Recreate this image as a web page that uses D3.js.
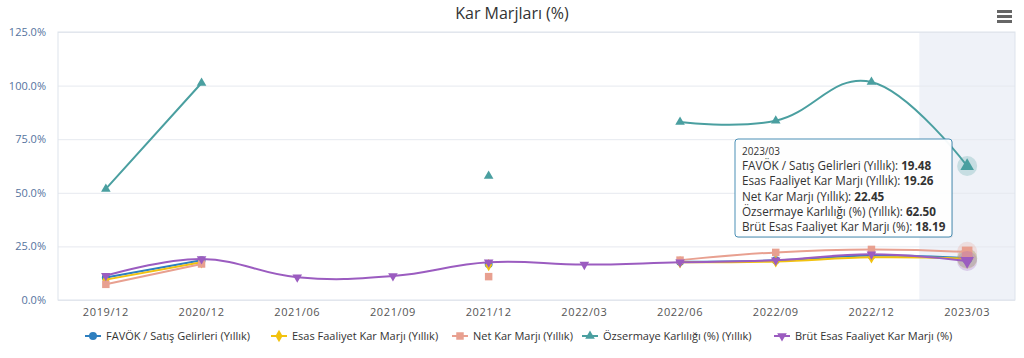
<!DOCTYPE html>
<html>
<head>
<meta charset="utf-8">
<script src="https://cdn.jsdelivr.net/npm/d3@7"></script>
<style>
  html, body { margin: 0; padding: 0; background: #fff; }
  svg { display: block; font-family: "Open Sans", "DejaVu Sans", sans-serif; }
</style>
</head>
<body>
<div id="chart"></div>
<script>
// categories (quarters) and series values
var categories = ["2019/12", "2020/12", "2021/06", "2021/09", "2021/12",
                  "2022/03", "2022/06", "2022/09", "2022/12", "2023/03"];
var favok     = [10.5, 18.5, null, null, 16.8, null, 17.8, 18.5, 20.7, 19.48];
var esas      = [9.5, 17.6, null, null, 16.3, null, 17.6, 18.0, 19.9, 19.26];
var netKar    = [7.3, 16.8, null, null, 10.9, null, 18.6, 22.2, 23.6, 22.45];
var ozsermaye = [51.8, 101.2, null, null, 57.8, null, 83.0, 83.6, 101.7, 62.50];
var brut      = [11.3, 19.1, 10.6, 11.2, 17.6, 16.5, 17.6, 18.5, 21.3, 18.19];
var yTicks    = [0, 25, 50, 75, 100, 125];

var series = [
  {name: "FAVÖK / Satış Gelirleri (Yıllık)", data: favok, color: "#2e7fbf", symbol: "circle"},
  {name: "Esas Faaliyet Kar Marjı (Yıllık)", data: esas, color: "#f2c20f", symbol: "diamond"},
  {name: "Net Kar Marjı (Yıllık)", data: netKar, color: "#e8a090", symbol: "square"},
  {name: "Özsermaye Karlılığı (%) (Yıllık)", data: ozsermaye, color: "#4a9fa0", symbol: "triangle"},
  {name: "Brüt Esas Faaliyet Kar Marjı (%)", data: brut, color: "#9b5cc0", symbol: "triangle-down"}
];
var hoverIndex = 9;

var W = 1024, H = 358;
var margin = {top: 32, right: 9, bottom: 58, left: 58};
var width = W - margin.left - margin.right;
var height = H - margin.top - margin.bottom;

var svg = d3.select("#chart").append("svg")
    .attr("width", W)
    .attr("height", H);

// title
svg.append("text")
    .attr("x", W / 2)
    .attr("y", 19)
    .attr("text-anchor", "middle")
    .attr("font-size", 16)
    .attr("fill", "#333")
    .text("Kar Marjları (%)");

// menu icon
[10, 15, 20].forEach(function(y) {
  svg.append("rect")
      .attr("x", 997).attr("y", y)
      .attr("width", 15).attr("height", 3)
      .attr("fill", "#666");
});

var g = svg.append("g")
    .attr("transform", "translate(" + margin.left + "," + margin.top + ")");

var x = d3.scaleBand()
    .domain(categories)
    .range([0, width]);

var y = d3.scaleLinear()
    .domain([0, 125])
    .range([height, 0]);

function cx(i) { return x(categories[i]) + x.bandwidth() / 2; }

// hover band
g.append("rect")
    .attr("x", x(categories[hoverIndex]))
    .attr("y", 0)
    .attr("width", x.bandwidth())
    .attr("height", height)
    .attr("fill", "#eff2f8");

// grid lines
g.append("g")
    .call(d3.axisLeft(y).tickValues(yTicks).tickSize(-width).tickFormat(""))
    .call(function(s) { s.select(".domain").remove(); })
    .selectAll("line")
    .attr("stroke", "#e6e9ef");

// plot border
g.append("rect")
    .attr("width", width)
    .attr("height", height)
    .attr("fill", "none")
    .attr("stroke", "#dde3ec");

// y labels
var yAxis = g.append("g")
    .call(d3.axisLeft(y).tickValues(yTicks).tickSize(0).tickPadding(12)
        .tickFormat(function(d) { return d3.format(".1f")(d) + "%"; }));
yAxis.select(".domain").remove();
yAxis.selectAll("text")
    .attr("font-family", "Open Sans")
    .attr("font-size", 11)
    .attr("fill", "#55739e");

// x labels
var xAxis = g.append("g")
    .attr("transform", "translate(0," + height + ")")
    .call(d3.axisBottom(x).tickSize(0).tickPadding(8));
xAxis.select(".domain").remove();
xAxis.selectAll("text")
    .attr("font-family", "Open Sans")
    .attr("font-size", 11)
    .attr("letter-spacing", 0.6)
    .attr("fill", "#555");

var line = d3.line()
    .defined(function(d) { return d != null; })
    .x(function(d, i) { return cx(i); })
    .y(function(d) { return y(d); })
    .curve(d3.curveCardinal.tension(-0.2));

var symbolTypes = {
  "circle": d3.symbolCircle,
  "diamond": d3.symbolDiamond,
  "square": d3.symbolSquare,
  "triangle": d3.symbolTriangle,
  "triangle-down": d3.symbolTriangle
};
var symbolSizes = {"circle": 50, "diamond": 44, "square": 56, "triangle": 40, "triangle-down": 40};

function marker(sel, s, scale) {
  return sel.append("path")
      .attr("d", d3.symbol().type(symbolTypes[s.symbol]).size(symbolSizes[s.symbol] * scale)())
      .attr("fill", s.color);
}

series.forEach(function(s) {
  var sg = g.append("g");
  sg.append("path")
      .attr("d", line(s.data))
      .attr("fill", "none")
      .attr("stroke", s.color)
      .attr("stroke-width", 2);

  s.data.forEach(function(v, i) {
    if (v == null) return;
    var hov = i === hoverIndex;
    var mg = sg.append("g")
        .attr("transform", "translate(" + cx(i) + "," + y(v) + ")" +
              (s.symbol === "triangle-down" ? " rotate(180)" : ""));
    if (hov) {
      mg.append("circle").attr("r", 10).attr("fill", s.color).attr("opacity", 0.25);
    }
    marker(mg, s, hov ? 2 : 1);
  });
});

// legend
var legendX = [85, 271, 452, 582, 774];
var legend = svg.append("g").attr("transform", "translate(0,336)");
series.forEach(function(s, i) {
  var lg = legend.append("g").attr("transform", "translate(" + legendX[i] + ",0)");
  lg.append("line")
      .attr("x1", 0).attr("x2", 16)
      .attr("stroke", s.color)
      .attr("stroke-width", 2);
  var mg = lg.append("g")
      .attr("transform", "translate(8,0)" + (s.symbol === "triangle-down" ? " rotate(180)" : ""));
  marker(mg, s, 1);
  lg.append("text")
      .attr("x", 21)
      .attr("y", 4)
      .attr("font-size", 11)
      .attr("fill", "#333")
      .text(s.name);
});

// tooltip
var tip = svg.append("g").attr("transform", "translate(735,139)");
tip.append("rect")
    .attr("x", 1).attr("y", 1)
    .attr("width", 217).attr("height", 98)
    .attr("rx", 3)
    .attr("fill", "#000").attr("opacity", 0.08);
tip.append("rect")
    .attr("width", 217).attr("height", 98)
    .attr("rx", 3)
    .attr("fill", "#fff").attr("fill-opacity", 0.95)
    .attr("stroke", "#4a8fb5");
tip.append("text")
    .attr("x", 7).attr("y", 16)
    .attr("font-size", 10)
    .attr("fill", "#333")
    .text(categories[hoverIndex]);
series.forEach(function(s, i) {
  var t = tip.append("text")
      .attr("x", 7)
      .attr("y", 31 + i * 15.3)
      .attr("font-size", 11.7)
      .attr("fill", "#333");
  t.append("tspan").text(s.name + ": ");
  t.append("tspan").attr("font-weight", "bold").text(s.data[hoverIndex].toFixed(2));
});
</script>
</body>
</html>
